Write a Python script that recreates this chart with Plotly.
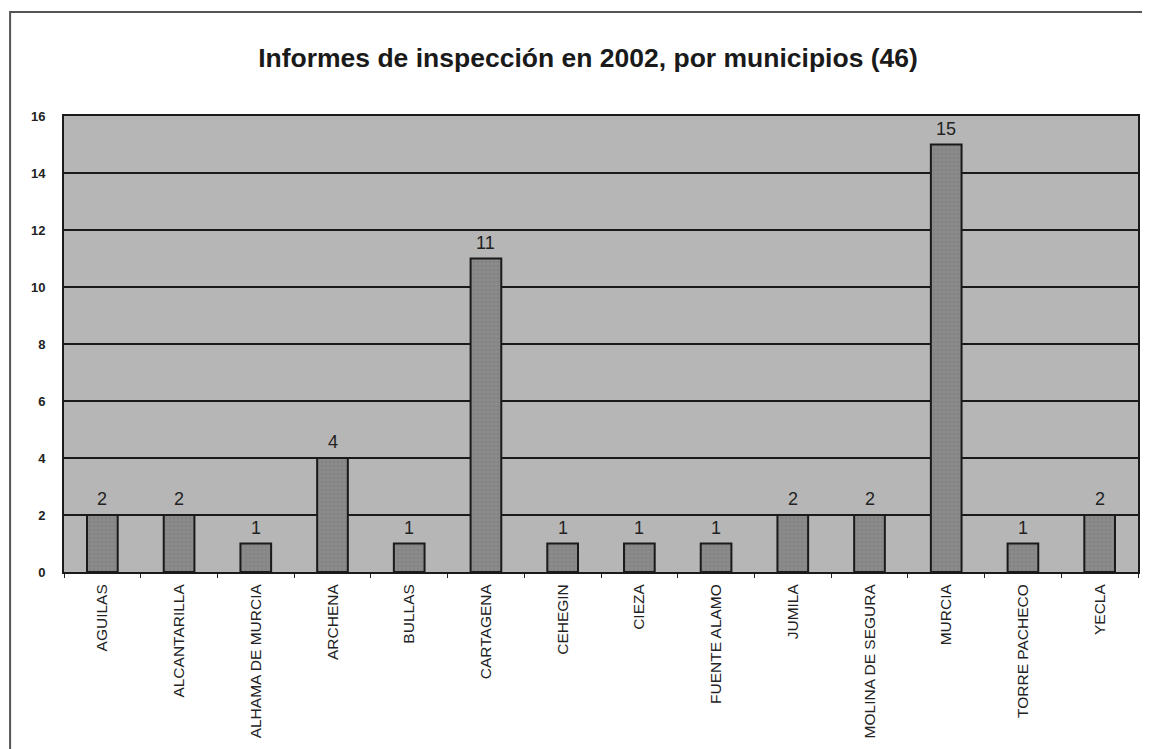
import plotly.graph_objects as go

municipios = [
    "AGUILAS", "ALCANTARILLA", "ALHAMA DE MURCIA", "ARCHENA", "BULLAS",
    "CARTAGENA", "CEHEGIN", "CIEZA", "FUENTE ALAMO", "JUMILA",
    "MOLINA DE SEGURA", "MURCIA", "TORRE PACHECO", "YECLA",
]
informes = [2, 2, 1, 4, 1, 11, 1, 1, 1, 2, 2, 15, 1, 2]
y_ticks = [0, 2, 4, 6, 8, 10, 12, 14, 16]

# the page body has an 8px margin, so the figure is a bit smaller
W, H = 1142, 741
left, right, top, bottom = 56, 10, 108, 177
pw = W - left - right
ph = H - top - bottom
FONT = "Liberation Sans, Arial"

fig = go.Figure()
fig.add_trace(
    go.Bar(
        x=municipios,
        y=informes,
        marker={
            "color": "#8a8a8a",
            "line": {"color": "#1a1a1a", "width": 2},
            "pattern": {"shape": ".", "fgcolor": "#777777", "bgcolor": "#8a8a8a",
                        "size": 4, "solidity": 0.2},
        },
        showlegend=False,
        hoverinfo="x+y",
    )
)

labels = [
    {
        "x": m, "y": v, "xref": "x", "yref": "y",
        "text": str(v), "showarrow": False,
        "yanchor": "bottom", "yshift": 4,
        "font": {"size": 18, "color": "#222", "family": FONT},
    }
    for m, v in zip(municipios, informes)
]

fig.update_layout(
    width=W,
    height=H,
    margin={"l": left, "r": right, "t": top, "b": bottom, "pad": 0},
    paper_bgcolor="white",
    plot_bgcolor="#b6b6b6",
    bargap=0.6,
    title={
        "text": "<b>Informes de inspección en 2002, por municipios (46)</b>",
        "x": 580 / W,
        "xanchor": "center",
        "y": 1 - 50 / H,
        "yanchor": "middle",
        "font": {"size": 26.5, "color": "#1a1a1a", "family": FONT},
    },
    font={"family": FONT, "color": "#222"},
    annotations=labels,
    shapes=[
        # outer frame of the figure
        {
            "type": "rect", "xref": "paper", "yref": "paper",
            "x0": (2 - left) / pw, "x1": (W + 20 - left) / pw,
            "y0": -(bottom + 20) / ph, "y1": 1 + (top - 4) / ph,
            "line": {"color": "#555", "width": 2},
        },
    ],
)

fig.update_xaxes(
    tickangle=-90,
    tickfont={"size": 15.5, "family": FONT, "color": "#222"},
    tickson="boundaries",
    ticks="outside",
    ticklen=4,
    tickcolor="#222",
    ticklabelstandoff=4,
    showline=True,
    linecolor="#1a1a1a",
    linewidth=2,
    mirror=True,
    showgrid=False,
)
fig.update_yaxes(
    range=[0, 16],
    tickvals=y_ticks,
    tickfont={"size": 13, "family": FONT, "color": "#222", "weight": "bold"},
    ticks="",
    ticklabelstandoff=14,
    showline=True,
    linecolor="#1a1a1a",
    linewidth=2,
    mirror=True,
    showgrid=True,
    gridcolor="#1a1a1a",
    gridwidth=2,
    zeroline=False,
)

fig.write_html("out.html")
